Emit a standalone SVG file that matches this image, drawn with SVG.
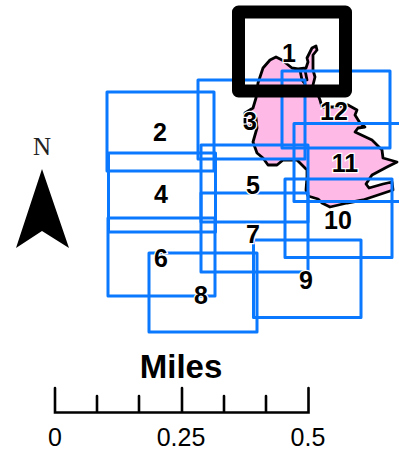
<svg xmlns="http://www.w3.org/2000/svg" width="399" height="451" viewBox="0 0 399 451">
<style>
.q{fill:none;stroke:#0a78ff;stroke-width:3;stroke-linejoin:round}
.l{font:bold 25px "Liberation Sans",Arial,sans-serif;fill:#000;stroke:#fff;stroke-width:2.5;paint-order:stroke;text-anchor:middle}
.s{font:25px "Liberation Sans",Arial,sans-serif;fill:#000;text-anchor:middle}
.t{stroke:#000;stroke-width:2.6;fill:none;stroke-linecap:round}
.c{fill:none;stroke:#000;stroke-width:2.8;stroke-linejoin:round;stroke-linecap:round}
</style>
<rect width="399" height="451" fill="#fff"/>
<path id="land" class="c" style="fill:#ffb9e6" d="M316 46L317 50L313 55L313 70L315 77L313 85L317 92L320 100L322 107L335 107L348 105L357 110L355 115L360 123L365 127L358 128L355 132L372 140L382 150L383 158L397 162L387 167L372 175L366 184L369 188L383 184L392 182L393 190L363 200L347 203L330 207L322 203L318 199L308 196L306 190L307 177L307 170L297 160L283 160L277 165L268 165L263 158L257 153L253 142L257 128L256 118L250 128L245 123L245 113L253 108L256 98L258 83L263 68L270 60L276 57L282 60L292 68L298 69L306 68L308 62L307 58L310 52L312 48Z"/>
<path id="inlet" class="c" d="M300 70L302 80L305 84M305 70L307 80"/>
<g id="connectors"></g>
<g id="sheet-2"><rect class="q" x="107" y="92" width="107" height="79"/></g>
<g id="sheet-3"><rect class="q" x="198" y="80" width="107" height="79"/></g>
<g id="sheet-4"><rect class="q" x="108.500" y="153" width="107" height="79"/></g>
<g id="sheet-5"><rect class="q" x="201" y="145" width="107" height="77"/></g>
<g id="sheet-6"><rect class="q" x="108" y="218" width="107" height="78"/></g>
<g id="sheet-7"><rect class="q" x="201" y="193" width="107" height="79"/></g>
<g id="sheet-8"><rect class="q" x="149" y="253" width="108" height="79"/></g>
<g id="sheet-9"><rect class="q" x="253.500" y="240" width="107.500" height="77.500"/></g>
<g id="sheet-10"><rect class="q" x="285" y="179" width="107" height="78.500"/></g>
<g id="sheet-11"><rect class="q" x="294" y="123.500" width="120" height="78"/></g>
<g id="sheet-12"><rect class="q" x="282" y="71" width="108" height="77"/></g>
<g id="sheet-1"><rect x="238.500" y="12" width="107" height="79" fill="none" stroke="#000" stroke-width="13" stroke-linejoin="round"/></g>
<text class="l" x="289" y="62">1</text>
<text class="l" x="160" y="141">2</text>
<text class="l" x="250" y="130">3</text>
<text class="l" x="161" y="203">4</text>
<text class="l" x="253" y="194">5</text>
<text class="l" x="161" y="267">6</text>
<text class="l" x="253" y="243">7</text>
<text class="l" x="201" y="304">8</text>
<text class="l" x="306" y="289">9</text>
<text class="l" x="338" y="229">10</text>
<text class="l" x="345" y="172">11</text>
<text class="l" x="334" y="120">12</text>
<g id="north">
<text x="42" y="155" text-anchor="middle" fill="#222" style="font:25px 'Liberation Serif',serif">N</text>
<path d="M42 169L16 248L42 231L69 248Z" fill="#000"/>
</g>
<g id="scale">
<text x="181" y="378" text-anchor="middle" style="font:bold 33px 'Liberation Sans',Arial,sans-serif">Miles</text>
<path class="t" d="M55 388V412.500H308.500V388M182 388V412.500M97 396V412.500M139 396V412.500M224 396V412.500M266 396V412.500"/>
<text class="s" x="55" y="446">0</text>
<text class="s" x="181" y="446">0.25</text>
<text class="s" x="308" y="446">0.5</text>
</g>
</svg>
